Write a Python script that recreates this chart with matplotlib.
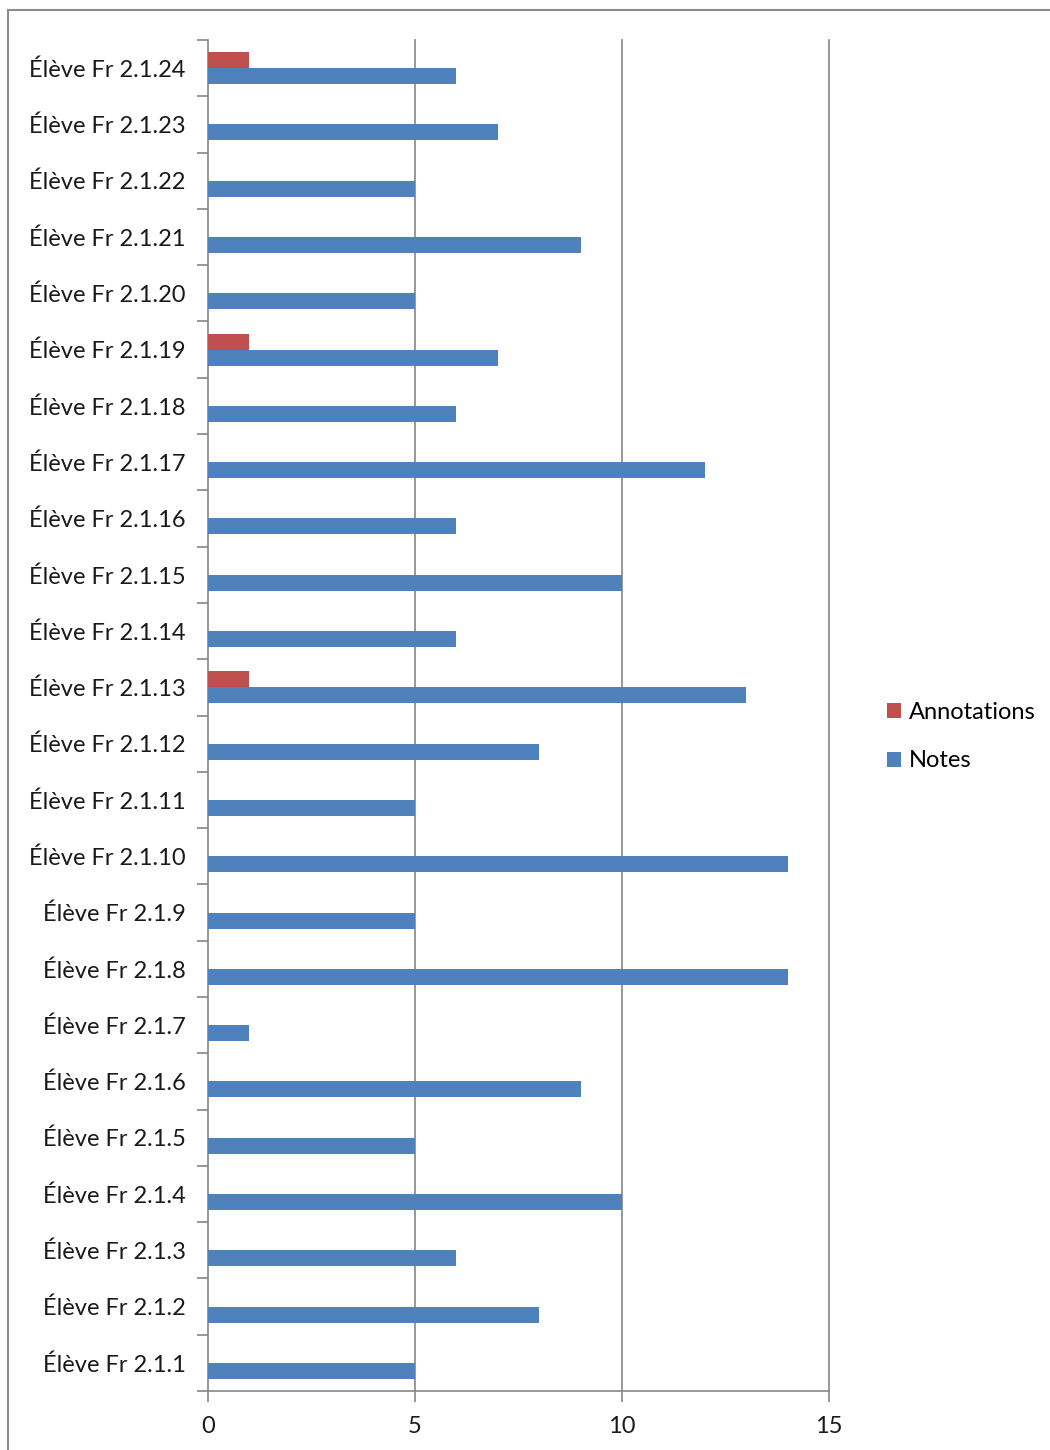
import matplotlib.pyplot as plt
import numpy as np
from matplotlib.patches import Rectangle

# students, bottom to top
eleves = ["Élève Fr 2.1.%d" % i for i in range(1, 25)]
notes = [5, 8, 6, 10, 5, 9, 1, 14, 5, 14, 5, 8, 13, 6, 10, 6, 12, 6, 7, 5, 9, 5, 7, 6]
annotations = [0, 0, 0, 0, 0, 0, 0, 0, 0, 0, 0, 0, 1, 0, 0, 0, 0, 0, 1, 0, 0, 0, 0, 1]
xticks = [0, 5, 10, 15]

blue = "#4F81BD"
red = "#C0504D"
grey = "#868686"

plt.rcParams['font.family'] = ['Lato', 'DejaVu Sans']

fig = plt.figure(figsize=(10.5, 14.5), dpi=100)
ax = fig.add_axes([208 / 1050, 1 - 1391 / 1450, 621 / 1050, 1351 / 1450])

y = np.arange(len(eleves))
h = 0.284
ax.barh(y - h / 2, notes, height=h, color=blue, label="Notes", zorder=3)
ax.barh(y + h / 2, annotations, height=h, color=red, label="Annotations", zorder=3)

ax.set_xlim(0, 15)
ax.set_ylim(-0.5, len(eleves) - 0.5)
ax.set_xticks(xticks)
ax.set_yticks(y)
ax.set_yticklabels(eleves)
ax.tick_params(axis='y', length=0, pad=16, labelsize=17, labelcolor="#1a1a1a")
ax.tick_params(axis='x', length=8, width=1.2, color=grey, pad=10, labelsize=17, labelcolor="#1a1a1a")
ax.set_yticks(np.arange(len(eleves) + 1) - 0.5, minor=True)
ax.tick_params(axis='y', which='minor', length=8, width=1.2, color=grey)

for x in xticks[1:]:
    ax.axvline(x, color=grey, lw=1.2, zorder=1, clip_on=False)
for s in ['top', 'right']:
    ax.spines[s].set_visible(False)
for s in ['left', 'bottom']:
    ax.spines[s].set_color(grey)
    ax.spines[s].set_linewidth(1.2)

handles, labels = ax.get_legend_handles_labels()
leg = fig.legend(handles[::-1], labels[::-1], loc='upper left',
                 bbox_to_anchor=(866 / 1050, 1 - 681 / 1450), frameon=False,
                 fontsize=17, handlelength=0.6, handleheight=0.6,
                 handletextpad=0.3, labelspacing=1.15)

# outer chart frame
fig.patches.append(Rectangle((8 / 1050, -0.01), 1.1, 1 - 10 / 1450 + 0.01,
                             transform=fig.transFigure, fill=False,
                             edgecolor="#8c8c8c", lw=1.5))

fig.savefig("out.png", dpi=100)
